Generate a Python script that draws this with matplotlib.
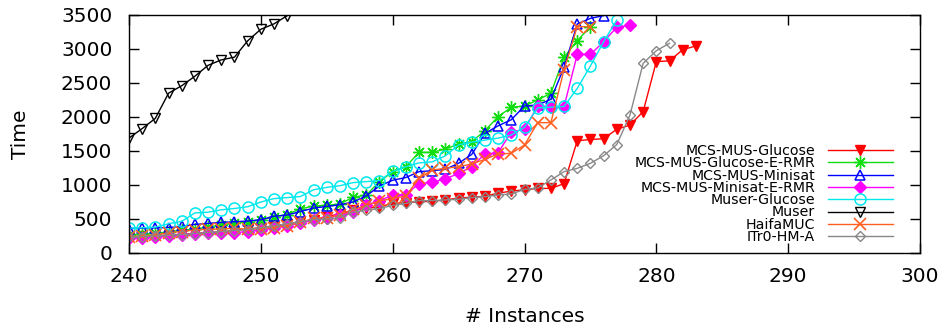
import matplotlib
matplotlib.use('Agg')
import matplotlib.pyplot as plt

# instance counts (x axis), every series starts at 240
instances = list(range(240, 284))

mcs_glucose = [240, 245, 255, 265, 275, 290, 300, 315, 330, 350, 375, 400, 420, 455, 490,
               530, 580, 630, 655, 680, 730, 740, 755, 760, 780, 810, 820, 835, 880, 910,
               930, 950, 950, 1020, 1650, 1670, 1680, 1820, 1880, 2080, 2815, 2825, 2990, 3045]
mcs_glucose_ermr = [270, 275, 290, 310, 335, 350, 385, 410, 440, 460, 485, 530, 565, 650, 690,
                    700, 720, 820, 853, 1050, 1196, 1270, 1480, 1480, 1530, 1600, 1637, 1800,
                    2005, 2143, 2162, 2250, 2349, 2878, 3122, 3328]
mcs_minisat = [360, 365, 370, 375, 390, 420, 435, 450, 460, 470, 490, 540, 559, 610, 660,
               685, 710, 750, 840, 985, 1070, 1110, 1196, 1210, 1230, 1320, 1450, 1760, 1870,
               1960, 2162, 2177, 2260, 2730, 3368, 3451, 3490]
mcs_minisat_ermr = [215, 220, 230, 250, 265, 280, 290, 295, 300, 315, 340, 370, 400, 440, 480,
                    520, 560, 600, 700, 770, 850, 860, 1020, 1040, 1090, 1170, 1270, 1456, 1475,
                    1780, 1820, 2160, 2152, 2152, 2920, 2920, 3107, 3320, 3350]
muser_glucose = [365, 370, 380, 430, 465, 590, 600, 635, 655, 680, 750, 800, 815, 830, 930,
                 965, 990, 1035, 1050, 1065, 1200, 1270, 1325, 1340, 1430, 1590, 1630, 1660,
                 1690, 1735, 1850, 2135, 2145, 2155, 2420, 2750, 3107, 3426]
muser = [1690, 1830, 1980, 2350, 2460, 2600, 2760, 2840, 2880, 3120, 3290, 3370, 3490]
haifamuc = [240, 250, 265, 300, 315, 340, 350, 350, 365, 350, 355, 375, 400, 450, 510,
            520, 560, 640, 700, 765, 800, 840, 1098, 1221, 1245, 1270, 1309, 1378, 1456,
            1466, 1588, 1917, 1917, 2695, 3328, 3328]
itr0_hm_a = [230, 240, 250, 260, 270, 285, 300, 315, 330, 345, 370, 400, 430, 460, 490,
             500, 520, 600, 630, 655, 700, 730, 770, 770, 780, 790, 815, 828, 853, 868,
             935, 955, 1074, 1196, 1245, 1319, 1430, 1595, 2029, 2789, 2975, 3084]

labels = ['MCS-MUS-Glucose', 'MCS-MUS-Glucose-E-RMR', 'MCS-MUS-Minisat',
          'MCS-MUS-Minisat-E-RMR', 'Muser-Glucose', 'Muser', 'HaifaMUC', 'ITr0-HM-A']
series = [mcs_glucose, mcs_glucose_ermr, mcs_minisat, mcs_minisat_ermr,
          muser_glucose, muser, haifamuc, itr0_hm_a]
x_ticks = [240, 250, 260, 270, 280, 290, 300]
y_ticks = [0, 500, 1000, 1500, 2000, 2500, 3000, 3500]

# gnuplot-like point styles
styles = [
    dict(color='#ff0000', marker='v', ms=7, mfc='#ff0000'),
    dict(color='#11dd11', marker=(8, 2, 0), ms=9, mfc='none'),
    dict(color='#0000ff', marker='^', ms=7, mfc='none', mew=1.1),
    dict(color='#ff00ff', marker='D', ms=6, mfc='#ff00ff'),
    dict(color='#00e8ee', marker='o', ms=8, mfc='none', mew=1.1),
    dict(color='#000000', marker='v', ms=7, mfc='none', mew=1.0),
    dict(color='#ff6020', marker='x', ms=8, mfc='none', mew=1.2),
    dict(color='#888888', marker='D', ms=5, mfc='none', mew=1.0),
]

fig = plt.figure(figsize=(9.47, 3.29), dpi=100)
ax = fig.add_axes([129 / 947, 76 / 329, 791 / 947, 238 / 329])

for vals, lab, st in zip(series, labels, styles):
    xs = instances[:len(vals)]
    ax.plot(xs, vals, label=lab, linewidth=1.0, **st)

ax.set_xlim(240, 300)
ax.set_ylim(0, 3500)
ax.set_xticks(x_ticks)
ax.set_yticks(y_ticks)
ax.tick_params(direction='in', length=7, width=1, top=True, right=True,
               labelsize=14.5, pad=10)
ax.tick_params(axis='y', pad=12)
for sp in ax.spines.values():
    sp.set_linewidth(1.0)

ax.set_xlabel('# Instances', fontsize=14.5, labelpad=15)
ax.set_ylabel('Time', fontsize=14.5, labelpad=22)

leg = ax.legend(loc='upper right', bbox_to_anchor=((893 - 129) / 791, (253 - 144) / 238),
                frameon=False, markerfirst=False, fontsize=10.2, handlelength=4.6,
                handletextpad=0.9, labelspacing=-0.12, borderpad=0, borderaxespad=0)

fig.savefig('out.png', dpi=100)
